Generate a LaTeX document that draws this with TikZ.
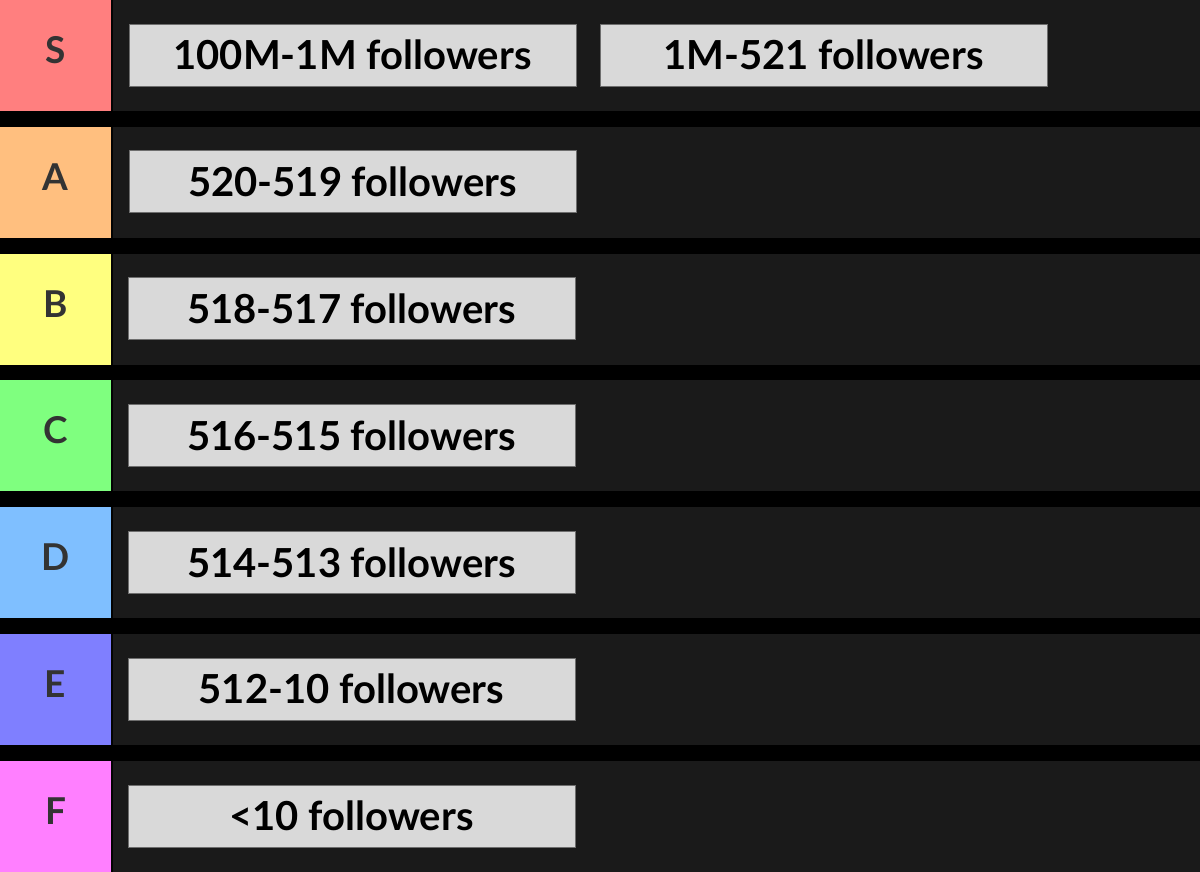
\documentclass[tikz,border=0pt]{standalone}
\usepackage{fontspec}
\setmainfont{Lato}
\definecolor{bgdark}{HTML}{1A1A1A}
\definecolor{gapblack}{HTML}{000000}
\definecolor{boxfill}{HTML}{D9D9D9}
\definecolor{boxedge}{HTML}{6E6E6E}
\definecolor{lettercol}{HTML}{333333}
\definecolor{tierS}{HTML}{FF7F7F}
\definecolor{tierA}{HTML}{FFBF7F}
\definecolor{tierB}{HTML}{FFFF7F}
\definecolor{tierC}{HTML}{7FFF7F}
\definecolor{tierD}{HTML}{7FBFFF}
\definecolor{tierE}{HTML}{7F7FFF}
\definecolor{tierF}{HTML}{FF7FFF}
\tikzset{
  tiercell/.style={rectangle, inner sep=0pt, outer sep=0pt, minimum width=111pt, minimum height=111pt, anchor=north west, draw=none},
  tierletter/.style={inner sep=0pt, text=lettercol, font=\fontsize{37}{39}\selectfont\bfseries},
  itembox/.style={rectangle, inner sep=0pt, outer sep=0pt, minimum width=447pt, minimum height=62pt, anchor=north west, fill=boxfill, draw=boxedge, line width=0.8pt, font=\fontsize{40}{42}\selectfont\bfseries, text=black},
}
\begin{document}
\begin{tikzpicture}[x=1pt,y=-1pt]
\useasboundingbox (0,0) rectangle (1200,872);
\fill[gapblack] (0,0) rectangle (1200,872);
\foreach \i/\c/\L in {0/tierS/S,1/tierA/A,2/tierB/B,3/tierC/C,4/tierD/D,5/tierE/E,6/tierF/F}{
  \pgfmathsetmacro{\top}{126.83*\i}
  \fill[bgdark] (111,\top) rectangle (1200,\top+111);
  \fill[black!90!bgdark] (111,\top) rectangle (113,\top+111);
  \node[tiercell, fill=\c] (cell\L) at (0,\top) {};
  \node[tierletter] (let\L) at (55.5,\top+50) {\L};
}
\node[itembox] (s1) at (129,24) {100M-1M followers};
\node[itembox] (s2) at (600,24) {1M-521 followers};
\node[itembox] (a1) at (129,126.83+24) {520-519 followers};
\node[itembox] (b1) at (128,253.67+24) {518-517 followers};
\node[itembox] (c1) at (128,380.5+24) {516-515 followers};
\node[itembox] (d1) at (128,507.33+24) {514-513 followers};
\node[itembox] (e1) at (128,634.17+24) {512-10 followers};
\node[itembox] (f1) at (128,761+24) {<10 followers};
\end{tikzpicture}
\end{document}
